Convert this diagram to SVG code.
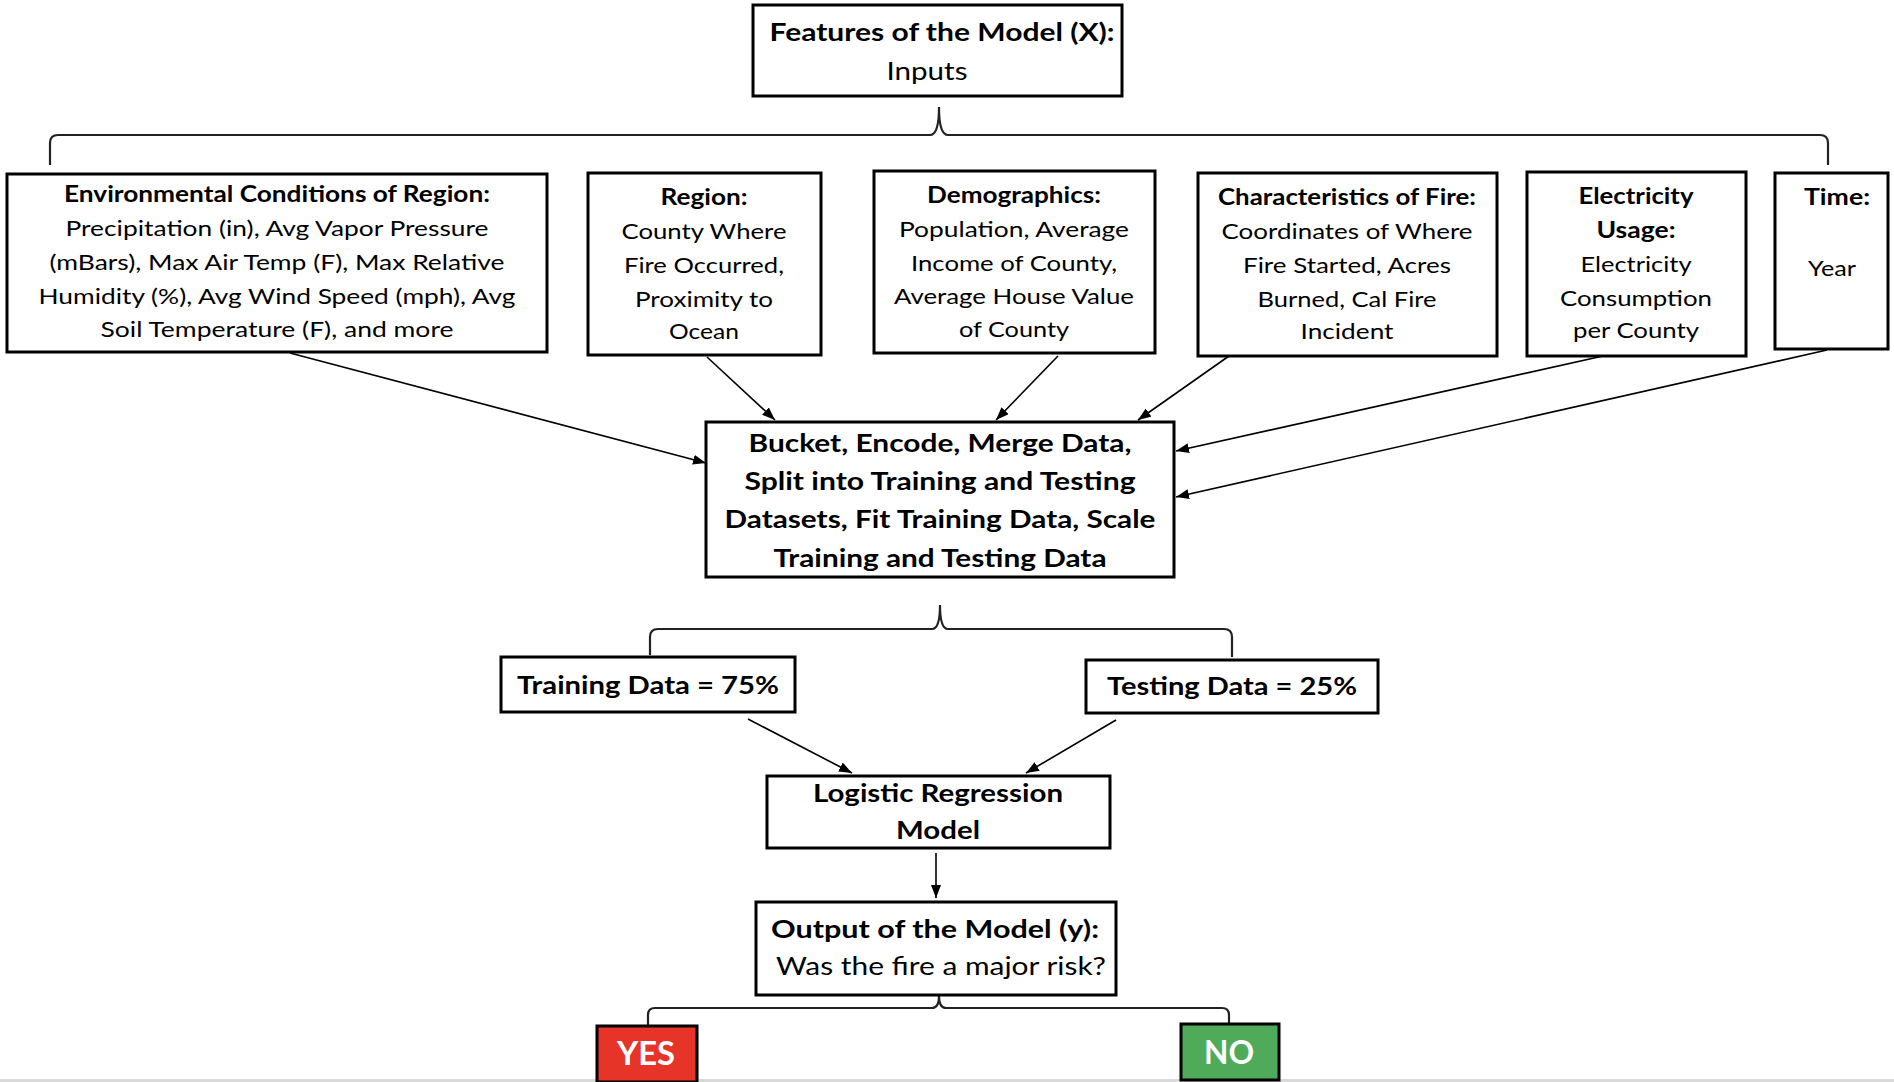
<svg xmlns="http://www.w3.org/2000/svg" width="1894" height="1082" viewBox="0 0 1894 1082">
<style>
.box{fill:#fff;stroke:#000;stroke-width:3}
.t{font-family:Lato,"Open Sans","Liberation Sans",sans-serif;font-size:22px;fill:#000;text-anchor:middle}
.b{font-weight:bold}
.m{font-size:25px}
.big{font-size:33px;font-weight:bold;fill:#fff}
.con{fill:none;stroke:#000;stroke-width:1.6}
.brace{fill:none;stroke:#222;stroke-width:2.2}
</style>
<defs>
<marker id="ah" markerUnits="userSpaceOnUse" markerWidth="14" markerHeight="10" refX="13" refY="5" orient="auto">
<path d="M0,0 L13,5 L0,10 z" fill="#000"/>
</marker>
</defs>
<rect x="0" y="0" width="1894" height="1082" fill="#fff"/>
<rect x="0" y="1079" width="1894" height="3" fill="#d9d9d9"/>

<g id="connectors">
<path class="brace" d="M50,165 L50,143 Q50,135 58,135 L930,135 Q939,135 939,107 Q939,135 948,135 L1820,135 Q1828,135 1828,143 L1828,165"/>
<path class="brace" d="M650,655 L650,637 Q650,629 658,629 L932,629 Q940,629 940,605 Q940,629 948,629 L1224,629 Q1232,629 1232,637 L1232,657"/>
<path class="brace" d="M648,1026 L648,1015 Q648,1008 655,1008 L932,1008 Q939,1008 939,996 Q939,1008 946,1008 L1222,1008 Q1229,1008 1229,1015 L1229,1024"/>
<line class="con" x1="290" y1="353" x2="706" y2="463" marker-end="url(#ah)"/>
<line class="con" x1="707" y1="357" x2="775" y2="420" marker-end="url(#ah)"/>
<line class="con" x1="1058" y1="356" x2="996" y2="420" marker-end="url(#ah)"/>
<line class="con" x1="1229" y1="356" x2="1138" y2="420" marker-end="url(#ah)"/>
<line class="con" x1="1603" y1="356" x2="1176" y2="451" marker-end="url(#ah)"/>
<line class="con" x1="1827" y1="350" x2="1176" y2="497" marker-end="url(#ah)"/>
<line class="con" x1="748" y1="719" x2="852" y2="773" marker-end="url(#ah)"/>
<line class="con" x1="1116" y1="720" x2="1026" y2="773" marker-end="url(#ah)"/>
<line class="con" x1="936" y1="853" x2="936" y2="898" marker-end="url(#ah)"/>
</g>

<g id="features">
<rect class="box" x="753" y="5" width="369" height="91"/>
<text class="t b m" x="942" y="41" textLength="345" lengthAdjust="spacingAndGlyphs">Features of the Model (X):</text>
<text class="t m" x="927" y="80" textLength="81" lengthAdjust="spacingAndGlyphs">Inputs</text>
</g>

<g id="env">
<rect class="box" x="7" y="174" width="540" height="178"/>
<text class="t b" x="277" y="202" textLength="426" lengthAdjust="spacingAndGlyphs">Environmental Conditions of Region:</text>
<text class="t" x="277" y="236" textLength="423" lengthAdjust="spacingAndGlyphs">Precipitation (in), Avg Vapor Pressure</text>
<text class="t" x="277" y="270" textLength="455" lengthAdjust="spacingAndGlyphs">(mBars), Max Air Temp (F), Max Relative</text>
<text class="t" x="277" y="304" textLength="477" lengthAdjust="spacingAndGlyphs">Humidity (%), Avg Wind Speed (mph), Avg</text>
<text class="t" x="277" y="337" textLength="353" lengthAdjust="spacingAndGlyphs">Soil Temperature (F), and more</text>
</g>

<g id="region">
<rect class="box" x="588" y="173" width="233" height="182"/>
<text class="t b" x="704" y="205" textLength="87" lengthAdjust="spacingAndGlyphs">Region:</text>
<text class="t" x="704" y="239" textLength="165" lengthAdjust="spacingAndGlyphs">County Where</text>
<text class="t" x="704" y="273" textLength="160" lengthAdjust="spacingAndGlyphs">Fire Occurred,</text>
<text class="t" x="704" y="307" textLength="138" lengthAdjust="spacingAndGlyphs">Proximity to</text>
<text class="t" x="704" y="339" textLength="70" lengthAdjust="spacingAndGlyphs">Ocean</text>
</g>

<g id="demographics">
<rect class="box" x="874" y="171" width="281" height="182"/>
<text class="t b" x="1014" y="203" textLength="174" lengthAdjust="spacingAndGlyphs">Demographics:</text>
<text class="t" x="1014" y="237" textLength="230" lengthAdjust="spacingAndGlyphs">Population, Average</text>
<text class="t" x="1014" y="271" textLength="206" lengthAdjust="spacingAndGlyphs">Income of County,</text>
<text class="t" x="1014" y="304" textLength="240" lengthAdjust="spacingAndGlyphs">Average House Value</text>
<text class="t" x="1014" y="337" textLength="110" lengthAdjust="spacingAndGlyphs">of County</text>
</g>

<g id="fire">
<rect class="box" x="1198" y="173" width="299" height="183"/>
<text class="t b" x="1347" y="205" textLength="258" lengthAdjust="spacingAndGlyphs">Characteristics of Fire:</text>
<text class="t" x="1347" y="239" textLength="251" lengthAdjust="spacingAndGlyphs">Coordinates of Where</text>
<text class="t" x="1347" y="273" textLength="208" lengthAdjust="spacingAndGlyphs">Fire Started, Acres</text>
<text class="t" x="1347" y="307" textLength="179" lengthAdjust="spacingAndGlyphs">Burned, Cal Fire</text>
<text class="t" x="1347" y="339" textLength="93" lengthAdjust="spacingAndGlyphs">Incident</text>
</g>

<g id="electricity">
<rect class="box" x="1527" y="172" width="219" height="184"/>
<text class="t b" x="1636" y="204" textLength="115" lengthAdjust="spacingAndGlyphs">Electricity</text>
<text class="t b" x="1636" y="238" textLength="79" lengthAdjust="spacingAndGlyphs">Usage:</text>
<text class="t" x="1636" y="272" textLength="111" lengthAdjust="spacingAndGlyphs">Electricity</text>
<text class="t" x="1636" y="306" textLength="152" lengthAdjust="spacingAndGlyphs">Consumption</text>
<text class="t" x="1636" y="338" textLength="126" lengthAdjust="spacingAndGlyphs">per County</text>
</g>

<g id="time">
<rect class="box" x="1775" y="173" width="113" height="176"/>
<text class="t b" x="1837" y="205" textLength="66" lengthAdjust="spacingAndGlyphs">Time:</text>
<text class="t" x="1832" y="276" textLength="48" lengthAdjust="spacingAndGlyphs">Year</text>
</g>

<g id="process">
<rect class="box" x="706" y="422" width="468" height="155"/>
<text class="t b m" x="940" y="452" textLength="383" lengthAdjust="spacingAndGlyphs">Bucket, Encode, Merge Data,</text>
<text class="t b m" x="940" y="490" textLength="391" lengthAdjust="spacingAndGlyphs">Split into Training and Testing</text>
<text class="t b m" x="940" y="528" textLength="431" lengthAdjust="spacingAndGlyphs">Datasets, Fit Training Data, Scale</text>
<text class="t b m" x="940" y="567" textLength="333" lengthAdjust="spacingAndGlyphs">Training and Testing Data</text>
</g>

<g id="training">
<rect class="box" x="501" y="657" width="294" height="55"/>
<text class="t b m" x="648" y="694" textLength="262" lengthAdjust="spacingAndGlyphs">Training Data = 75%</text>
</g>

<g id="testing">
<rect class="box" x="1086" y="660" width="292" height="53"/>
<text class="t b m" x="1232" y="695" textLength="250" lengthAdjust="spacingAndGlyphs">Testing Data = 25%</text>
</g>

<g id="logistic">
<rect class="box" x="767" y="776" width="343" height="72"/>
<text class="t b m" x="938" y="802" textLength="250" lengthAdjust="spacingAndGlyphs">Logistic Regression</text>
<text class="t b m" x="938" y="839" textLength="84" lengthAdjust="spacingAndGlyphs">Model</text>
</g>

<g id="output">
<rect class="box" x="756" y="902" width="360" height="93"/>
<text class="t b m" x="935" y="938" textLength="328" lengthAdjust="spacingAndGlyphs">Output of the Model (y):</text>
<text class="t m" x="941" y="975" textLength="330" lengthAdjust="spacingAndGlyphs">Was the fire a major risk?</text>
</g>

<g id="yes">
<rect x="597" y="1026" width="100" height="56" fill="#e63528" stroke="#000" stroke-width="3"/>
<text class="t big" x="646" y="1065" textLength="58" lengthAdjust="spacingAndGlyphs">YES</text>
</g>

<g id="no">
<rect x="1181" y="1024" width="98" height="56" fill="#4faa5a" stroke="#000" stroke-width="3"/>
<text class="t big" x="1229" y="1064" textLength="50" lengthAdjust="spacingAndGlyphs">NO</text>
</g>
</svg>
